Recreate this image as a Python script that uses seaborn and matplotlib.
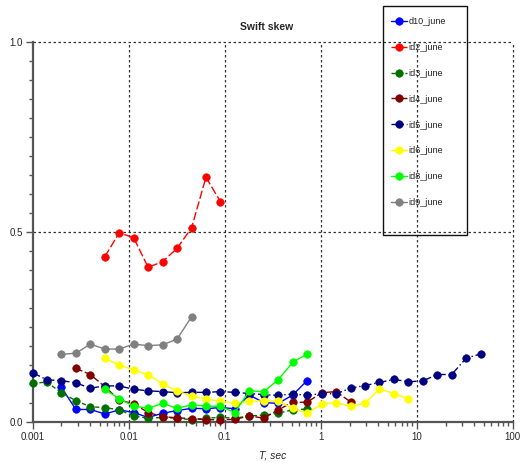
import numpy as np
import pandas as pd
import matplotlib
matplotlib.use("Agg")
import matplotlib.pyplot as plt
from matplotlib.patches import Rectangle
from matplotlib.ticker import FixedLocator, NullFormatter, LogLocator
import seaborn as sns

# Periods (s) on a half-octave grid
periods = [0.001, 0.00141, 0.002, 0.00283, 0.004, 0.00566, 0.008, 0.0113,
           0.016, 0.0226, 0.032, 0.0453, 0.064, 0.0905, 0.128, 0.181,
           0.256, 0.362, 0.512, 0.724, 1.024, 1.448, 2.048, 2.896,
           4.096, 5.793, 8.192, 11.59, 16.38, 23.17, 32.77, 46.34]

labels = ["d10_june", "id2_june", "id3_june", "id4_june",
          "id5_june", "id6_june", "id8_june", "id9_june"]

# first period index of each series
start_idx = [2, 5, 0, 3, 0, 5, 5, 2]

skew_d10 = [0.091, 0.033, 0.033, 0.021, 0.032, 0.025, 0.012, 0.023, 0.030,
            0.036, 0.035, 0.038, 0.035, 0.071, 0.051, 0.049, 0.071, 0.109]
skew_id2 = [0.435, 0.498, 0.485, 0.407, 0.422, 0.457, 0.511, 0.644, 0.580]
skew_id3 = [0.102, 0.105, 0.077, 0.056, 0.040, 0.038, 0.032, 0.016, 0.010,
            0.012, 0.010, 0.006, 0.010, 0.012, 0.010, 0.016, 0.018, 0.023,
            0.032, 0.034]
skew_id4 = [0.141, 0.125, 0.093, 0.058, 0.048, 0.025, 0.014, 0.011, 0.009,
            0.006, 0.006, 0.007, 0.016, 0.010, 0.032, 0.052, 0.052, 0.077,
            0.080, 0.053]
skew_id5 = [0.130, 0.111, 0.109, 0.103, 0.089, 0.095, 0.095, 0.086, 0.082,
            0.080, 0.077, 0.078, 0.078, 0.080, 0.078, 0.075, 0.072, 0.070,
            0.074, 0.070, 0.075, 0.074, 0.089, 0.096, 0.104, 0.112, 0.106,
            0.108, 0.125, 0.125, 0.168, 0.179]
skew_id6 = [0.168, 0.150, 0.137, 0.125, 0.100, 0.082, 0.068, 0.060, 0.055,
            0.049, 0.054, 0.056, 0.054, 0.036, 0.023, 0.047, 0.051, 0.042,
            0.049, 0.087, 0.075, 0.061]
skew_id8 = [0.086, 0.061, 0.042, 0.036, 0.049, 0.036, 0.045, 0.042, 0.041,
            0.025, 0.082, 0.080, 0.111, 0.157, 0.179]
skew_id9 = [0.178, 0.181, 0.205, 0.192, 0.192, 0.205, 0.201, 0.203, 0.218,
            0.277]

series = [skew_d10, skew_id2, skew_id3, skew_id4,
          skew_id5, skew_id6, skew_id8, skew_id9]

colors = ["#0000FF", "#FF0000", "#007000", "#800000",
          "#000080", "#FFFF00", "#00FF00", "#808080"]
dash_styles = ["-", (0, (6, 2)), (0, (3, 2)), (0, (5, 2)),
               (0, (6, 2, 1, 2)), "-", "-", "-"]

frames = []
for name, s0, vals in zip(labels, start_idx, series):
    frames.append(pd.DataFrame({"T": periods[s0:s0 + len(vals)],
                                "skew": vals, "series": name}))
df = pd.concat(frames, ignore_index=True)

sns.set_style("white")
plt.rcParams["font.family"] = ["Liberation Sans", "DejaVu Sans"]

W, H = 526, 474
fig = plt.figure(figsize=(W / 100, H / 100), dpi=100)
ax = fig.add_axes([32.5 / W, 52 / H, 480.2 / W, 380 / H])

for name, col, ls in zip(labels, colors, dash_styles):
    sub = df[df["series"] == name]
    sns.lineplot(data=sub, x="T", y="skew", ax=ax, color=col, linestyle=ls,
                 linewidth=1.0, marker="o", markersize=5.4,
                 markeredgecolor=col, markeredgewidth=0.5,
                 estimator=None, sort=False, label=name, clip_on=False,
                 zorder=3)

ax.set_xscale("log")
ax.set_xlim(0.001, 100)
ax.set_ylim(0, 1.0)

ax.xaxis.set_major_locator(FixedLocator([0.001, 0.01, 0.1, 1, 10, 100]))
ax.set_xticklabels(["0.001", "0.01", "0.1", "1", "10", "100"])
ax.xaxis.set_minor_locator(LogLocator(base=10, subs=np.arange(2, 10)))
ax.xaxis.set_minor_formatter(NullFormatter())
ax.yaxis.set_major_locator(FixedLocator([0.0, 0.5, 1.0]))
ax.set_yticklabels(["0.0", "0.5", "1.0"])
ax.yaxis.set_minor_locator(FixedLocator(np.arange(0, 1.0001, 0.05)))

ax.tick_params(axis="both", which="major", direction="out", length=5,
               width=1, color="#555555", labelsize=7, pad=2,
               bottom=True, left=True)
ax.tick_params(axis="both", which="minor", direction="out", length=3,
               width=1, color="#555555", bottom=True, left=True)

# dotted grid at decades and half-units
for xv in [0.01, 0.1, 1, 10, 100]:
    ax.axvline(xv, color="#333333", linestyle=(0, (2, 2)), linewidth=0.9,
               zorder=1, clip_on=False)
for yv in [0.5, 1.0]:
    ax.axhline(yv, color="#333333", linestyle=(0, (2, 2)), linewidth=0.9,
               zorder=1, clip_on=False)

for side in ["top", "right"]:
    ax.spines[side].set_visible(False)
for side in ["left", "bottom"]:
    ax.spines[side].set_color("#555555")
    ax.spines[side].set_linewidth(1.6)

ax.set_xlabel("T, sec", fontsize=7.5, fontstyle="italic", labelpad=6)
ax.set_ylabel("")

fig.text(267 / W, 1 - 27 / H, "Swift skew", ha="center", va="center",
         fontsize=7.5, fontweight="bold")

# legend box
fig.patches.append(Rectangle((383 / W, 1 - 234.5 / H), 83.5 / W, 228.5 / H,
                             transform=fig.transFigure, fill=False,
                             edgecolor="#111111", linewidth=1.0, zorder=5))
leg = ax.legend(loc="upper left", bbox_to_anchor=(391 / W, 1 - 17 / H),
                bbox_transform=fig.transFigure, frameon=False,
                fontsize=6.5, handlelength=1.75, handletextpad=0.2,
                labelspacing=1.87, borderpad=0, borderaxespad=0)
for t in leg.get_texts():
    t.set_color("#222222")

fig.savefig("out.png", dpi=100)
